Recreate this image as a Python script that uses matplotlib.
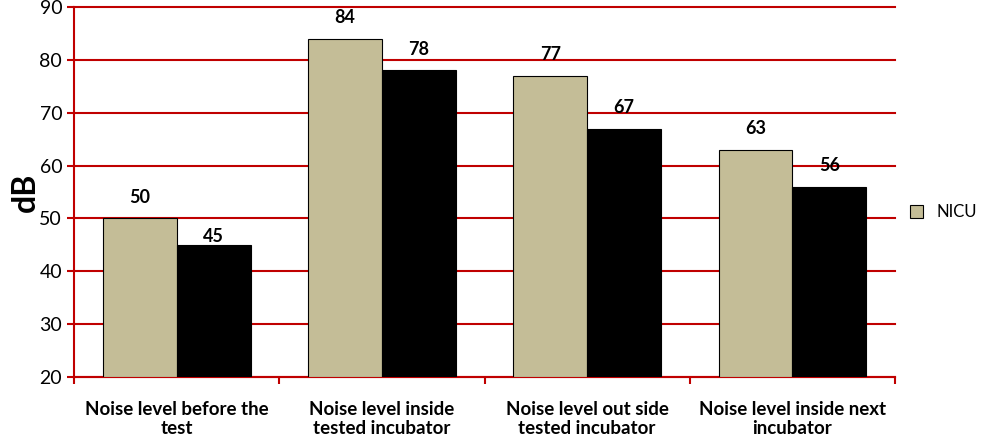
import numpy as np
import matplotlib.pyplot as plt

categories = ['Noise level before the\ntest', 'Noise level inside\ntested incubator',
              'Noise level out side\ntested incubator', 'Noise level inside next\nincubator']
nicu = [50, 84, 77, 63]
other = [45, 78, 67, 56]

# label offsets above the bars, in points
nicu_pad = [9, 9, 9, 9]
other_pad = [0, 9, 9, 9]

plt.rcParams['font.family'] = ['Lato', 'DejaVu Sans']
red = '#C00000'
beige = '#C4BD97'

fig = plt.figure(figsize=(9.81, 4.41), dpi=100)
ax = fig.add_axes([0.0754, 0.145, 0.837, 0.839])

x = np.arange(len(categories))
w = 0.36
b1 = ax.bar(x - w/2, np.array(nicu) - 20, w, bottom=20, color=beige, edgecolor='black', linewidth=0.8, label='NICU', zorder=3)
b2 = ax.bar(x + w/2, np.array(other) - 20, w, bottom=20, color='black', edgecolor='black', linewidth=0.8, zorder=3)

for xi, v, p in zip(x - w/2, nicu, nicu_pad):
    ax.annotate(str(v), (xi, v), xytext=(0, p), textcoords='offset points', ha='center', va='bottom',
                fontsize=13, fontweight='bold', zorder=4)
for xi, v, p in zip(x + w/2, other, other_pad):
    ax.annotate(str(v), (xi, v), xytext=(0, p), textcoords='offset points', ha='center', va='bottom',
                fontsize=13, fontweight='bold', zorder=4)

ax.set_ylim(20, 90)
ax.set_xlim(-0.5, len(categories) - 0.5)
ax.set_yticks(range(20, 91, 10))
ax.yaxis.grid(True, color=red, linewidth=1.5, zorder=0)
for gl in ax.get_ygridlines():
    gl.set_clip_on(False)
ax.tick_params(axis='y', colors=red, labelcolor='black', labelsize=14, length=5, width=1.5, direction='out')

ax.set_xticks(np.arange(-0.5, len(categories), 1))
ax.set_xticklabels([])
ax.set_xticks(x, minor=True)
ax.set_xticklabels(categories, minor=True, fontsize=13.5, fontweight='bold')
ax.tick_params(axis='x', which='major', colors=red, length=5, width=1.5, direction='out')
ax.tick_params(axis='x', which='minor', length=0, pad=17)

for s in ['top', 'right']:
    ax.spines[s].set_visible(False)
for s in ['left', 'bottom']:
    ax.spines[s].set_color(red)
    ax.spines[s].set_linewidth(1.5)

ax.set_ylabel('dB', fontsize=23, fontweight='bold', labelpad=0)
ax.legend(handles=[b1], loc='center left', bbox_to_anchor=(1.0, 0.446), frameon=False, fontsize=12,
          handlelength=0.8, handleheight=0.8)

fig.savefig('out.png', dpi=100)
